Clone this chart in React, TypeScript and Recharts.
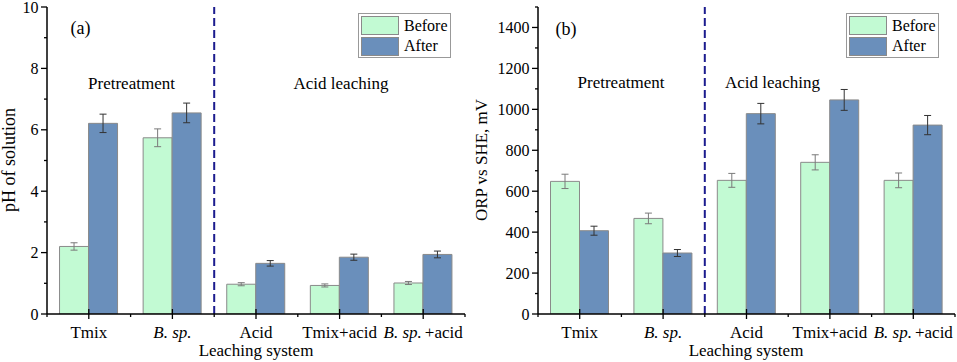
import React from 'react';
import { BarChart, Bar, XAxis, YAxis, ErrorBar, ReferenceLine, Legend } from 'recharts';

const categories = ['Tmix', 'B. sp.', 'Acid', 'Tmix+acid', 'B. sp.+acid'];

const phBefore = [2.2, 5.74, 0.97, 0.93, 1.01];
const phBeforeErr = [0.12, 0.29, 0.05, 0.05, 0.05];
const phAfter = [6.21, 6.55, 1.65, 1.85, 1.94];
const phAfterErr = [0.3, 0.32, 0.09, 0.1, 0.11];

const orpBefore = [648, 467, 653, 741, 653];
const orpBeforeErr = [35, 26, 34, 37, 36];
const orpAfter = [407, 298, 979, 1046, 923];
const orpAfterErr = [22, 17, 50, 51, 47];

const phTicks = [0, 1, 2, 3, 4, 5, 6, 7, 8, 9, 10];
const phLabels = [0, 2, 4, 6, 8, 10];
const orpTicks = [0, 100, 200, 300, 400, 500, 600, 700, 800, 900, 1000, 1100, 1200, 1300, 1400, 1500];
const orpLabels = [0, 200, 400, 600, 800, 1000, 1200, 1400];

const seriesNames = ['Before', 'After'];
const dividerCategory = 'Acid';

const FONT = "'Liberation Serif', 'DejaVu Serif', 'Times New Roman', serif";
const BEFORE_FILL = '#c2fad3';
const AFTER_FILL = '#6a8fbb';
const BAR_STROKE = '#8a8a8a';
const DASH_COLOR = '#1c1c8e';

const phData = categories.map((name, i) => ({
  name,
  before: phBefore[i],
  beforeErr: phBeforeErr[i],
  after: phAfter[i],
  afterErr: phAfterErr[i],
}));

const orpData = categories.map((name, i) => ({
  name,
  before: orpBefore[i],
  beforeErr: orpBeforeErr[i],
  after: orpAfter[i],
  afterErr: orpAfterErr[i],
}));

const textStyle = { fontFamily: FONT };

const XTick = (props: any) => {
  const { x, y, payload, index } = props;
  const half = payload && typeof payload.offset === 'number' && payload.offset > 0 ? payload.offset : 41.8;
  const label = String(payload.value);
  const isLast = index === categories.length - 1;
  let content: any = label;
  if (label.startsWith('B. sp.')) {
    const rest = label.slice(6);
    content = (
      <>
        <tspan fontStyle="italic">B. sp.</tspan>
        {rest ? <tspan dx={3}>{rest}</tspan> : null}
      </>
    );
  }
  return (
    <g>
      <line x1={x} x2={x} y1={y - 5} y2={y + 5} stroke="#000" strokeWidth={1.3} />
      <line x1={x - half} x2={x - half} y1={y} y2={y + 3} stroke="#000" strokeWidth={1.3} />
      {isLast ? <line x1={x + half} x2={x + half} y1={y} y2={y + 3} stroke="#000" strokeWidth={1.3} /> : null}
      <text x={x} y={y + 23.5} textAnchor="middle" fontSize={17} style={textStyle} fill="#000">
        {content}
      </text>
    </g>
  );
};

const makeYTick = (labels: number[]) => (props: any) => {
  const { x, y, payload } = props;
  const major = labels.includes(payload.value);
  return (
    <g>
      <line x1={x - (major ? 6 : 3)} x2={x} y1={y} y2={y} stroke="#000" strokeWidth={1.3} />
      {major ? (
        <text x={x - 8.5} y={y + 5.5} textAnchor="end" fontSize={16} style={textStyle} fill="#000">
          {payload.value}
        </text>
      ) : null}
    </g>
  );
};

const LegendBox = () => (
  <svg width={93} height={45} style={{ display: 'block' }}>
    <rect x={0.5} y={0.5} width={92} height={44} fill="#fff" stroke="#999" strokeWidth={1} />
    <rect x={3.5} y={3.5} width={37} height={18} fill={BEFORE_FILL} stroke={BAR_STROKE} strokeWidth={1} />
    <rect x={3.5} y={24.5} width={37} height={18} fill={AFTER_FILL} stroke={BAR_STROKE} strokeWidth={1} />
    <text x={46} y={18} fontSize={16} style={textStyle} fill="#000">{seriesNames[0]}</text>
    <text x={46} y={38} fontSize={16} style={textStyle} fill="#000">{seriesNames[1]}</text>
  </svg>
);

type PanelProps = {
  data: any[];
  width: number;
  yAxisWidth: number;
  marginRight: number;
  domain: [number, number];
  ticks: number[];
  labels: number[];
  legendLeft: number;
};

const Panel = ({ data, width, yAxisWidth, marginRight, domain, ticks, labels, legendLeft }: PanelProps) => (
  <BarChart
    width={width}
    height={362}
    data={data}
    margin={{ top: 7, right: marginRight, bottom: 0, left: 0 }}
    barCategoryGap="15%"
    barGap={0}
  >
    <XAxis
      dataKey="name"
      height={48}
      interval={0}
      tickSize={0}
      tickMargin={0}
      tickLine={false}
      tick={XTick}
      axisLine={{ stroke: '#000', strokeWidth: 1.5 }}
    />
    <XAxis
      xAxisId="top"
      dataKey="name"
      orientation="top"
      height={0}
      tick={false}
      tickLine={false}
      axisLine={{ stroke: '#000', strokeWidth: 1.5 }}
    />
    <YAxis
      width={yAxisWidth}
      domain={domain}
      ticks={ticks}
      interval={0}
      tickSize={0}
      tickMargin={0}
      tickLine={false}
      tick={makeYTick(labels)}
      axisLine={{ stroke: '#000', strokeWidth: 1.5 }}
      allowDataOverflow
    />
    <YAxis
      yAxisId="r"
      orientation="right"
      width={0}
      domain={domain}
      tick={false}
      tickLine={false}
      axisLine={{ stroke: '#000', strokeWidth: 1.5 }}
    />
    <ReferenceLine
      x={dividerCategory}
      position="start"
      stroke={DASH_COLOR}
      strokeWidth={2}
      strokeDasharray="8 4"
    />
    <Legend
      layout="horizontal"
      verticalAlign="middle"
      align="center"
      wrapperStyle={{ left: legendLeft, top: 13, width: 93, height: 45 }}
      content={() => <LegendBox />}
    />
    <Bar dataKey="before" name={seriesNames[0]} fill={BEFORE_FILL} stroke={BAR_STROKE} strokeWidth={1} isAnimationActive={false}>
      <ErrorBar dataKey="beforeErr" width={3.5} stroke="#7a7a7a" strokeWidth={1} direction="y" isAnimationActive={false} />
    </Bar>
    <Bar dataKey="after" name={seriesNames[1]} fill={AFTER_FILL} stroke={BAR_STROKE} strokeWidth={1} isAnimationActive={false}>
      <ErrorBar dataKey="afterErr" width={3.5} stroke="#333" strokeWidth={1} direction="y" isAnimationActive={false} />
    </Bar>
  </BarChart>
);

export default function App() {
  return (
    <div style={{ position: 'absolute', left: 0, top: 0, width: 957, height: 362, background: '#fff', overflow: 'hidden', fontFamily: FONT }}>
      <div style={{ position: 'absolute', left: 0, top: 0 }}>
        <Panel
          data={phData}
          width={480}
          yAxisWidth={47}
          marginRight={15}
          domain={[0, 10]}
          ticks={phTicks}
          labels={phLabels}
          legendLeft={358}
        />
      </div>
      <div style={{ position: 'absolute', left: 478, top: 0 }}>
        <Panel
          data={orpData}
          width={479}
          yAxisWidth={60}
          marginRight={2}
          domain={[0, 1500]}
          ticks={orpTicks}
          labels={orpLabels}
          legendLeft={368}
        />
      </div>
      <svg width={957} height={362} style={{ position: 'absolute', left: 0, top: 0, pointerEvents: 'none', fontFamily: FONT }} fill="#000">
        <text x={70.5} y={33.5} fontSize={18} style={textStyle}>(a)</text>
        <text x={131.5} y={89} fontSize={17} textAnchor="middle" style={textStyle}>Pretreatment</text>
        <text x={341} y={89} fontSize={17} textAnchor="middle" style={textStyle}>Acid leaching</text>
        <text x={256} y={356} fontSize={17} textAnchor="middle" style={textStyle}>Leaching system</text>
        <text transform="translate(15,160) rotate(-90)" fontSize={18} textAnchor="middle" style={textStyle}>pH of solution</text>

        <text x={555.5} y={35} fontSize={18} style={textStyle}>(b)</text>
        <text x={621} y={88} fontSize={17} textAnchor="middle" style={textStyle}>Pretreatment</text>
        <text x={772.5} y={88} fontSize={17} textAnchor="middle" style={textStyle}>Acid leaching</text>
        <text x={746} y={356} fontSize={17} textAnchor="middle" style={textStyle}>Leaching system</text>
        <text transform="translate(487,160) rotate(-90)" fontSize={17} textAnchor="middle" style={textStyle}>ORP vs SHE, mV</text>
      </svg>
    </div>
  );
}
